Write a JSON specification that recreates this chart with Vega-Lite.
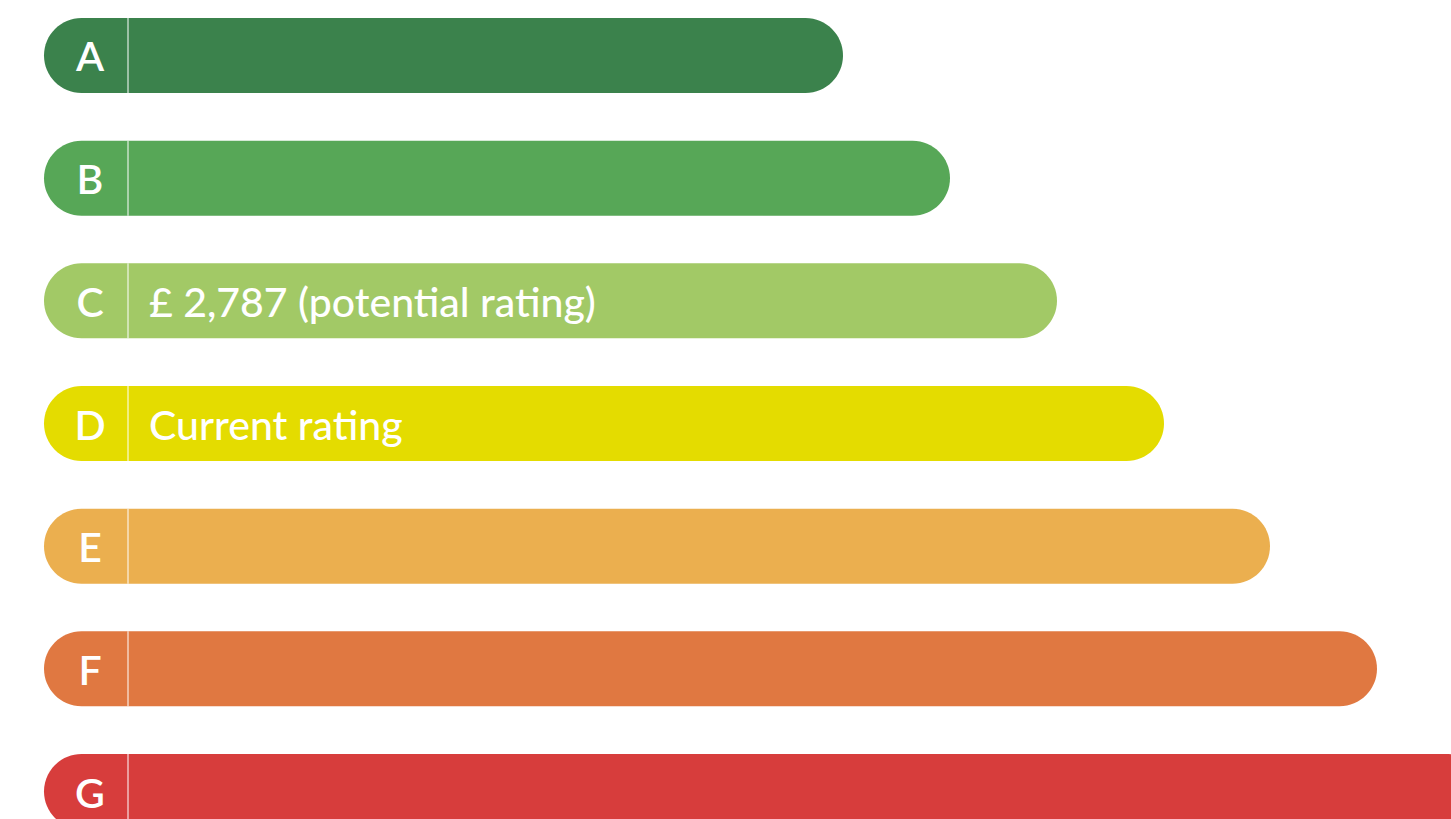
{
  "$schema": "https://vega.github.io/schema/vega-lite/v6.json",
  "width": 1451,
  "height": 847,
  "padding": 0,
  "autosize": {"type": "none"},
  "background": "white",
  "config": {"view": {"stroke": null}},
  "data": {
    "values": [
      {"band": "A", "score": 843, "label": ""},
      {"band": "B", "score": 950, "label": ""},
      {"band": "C", "score": 1057, "label": "£ 2,787 (potential rating)"},
      {"band": "D", "score": 1164, "label": "Current rating"},
      {"band": "E", "score": 1270, "label": ""},
      {"band": "F", "score": 1377, "label": ""},
      {"band": "G", "score": 1484, "label": ""}
    ]
  },
  "encoding": {
    "y": {
      "field": "band",
      "type": "nominal",
      "sort": ["A", "B", "C", "D", "E", "F", "G"],
      "scale": {"paddingInner": 0.389, "paddingOuter": 0.1467},
      "axis": null
    }
  },
  "layer": [
    {
      "mark": {"type": "bar", "cornerRadius": 37.5, "clip": true},
      "encoding": {
        "x": {
          "field": "score",
          "type": "quantitative",
          "scale": {"domain": [0, 1451], "nice": false, "zero": false},
          "axis": null
        },
        "x2": {"datum": 44},
        "color": {
          "field": "band",
          "type": "nominal",
          "scale": {
            "domain": ["A", "B", "C", "D", "E", "F", "G"],
            "range": ["#3B824C", "#57A757", "#A2C966", "#E4DC00", "#EBAF4F", "#E07841", "#D73D3C"]
          },
          "legend": null
        }
      }
    },
    {
      "mark": {"type": "bar", "color": "white", "opacity": 0.5},
      "encoding": {
        "x": {"datum": 127},
        "x2": {"datum": 129}
      }
    },
    {
      "mark": {"type": "text", "align": "center", "baseline": "middle", "font": "Lato", "fontSize": 41, "fontWeight": 600, "color": "white", "dy": 4},
      "encoding": {
        "x": {"datum": 90},
        "text": {"field": "band", "type": "nominal"}
      }
    },
    {
      "transform": [{"filter": "datum.label != ''"}],
      "mark": {"type": "text", "align": "left", "baseline": "middle", "font": "Lato", "fontSize": 41, "fontWeight": 500, "color": "white", "dy": 4},
      "encoding": {
        "x": {"datum": 149},
        "text": {"field": "label", "type": "nominal"}
      }
    }
  ]
}
